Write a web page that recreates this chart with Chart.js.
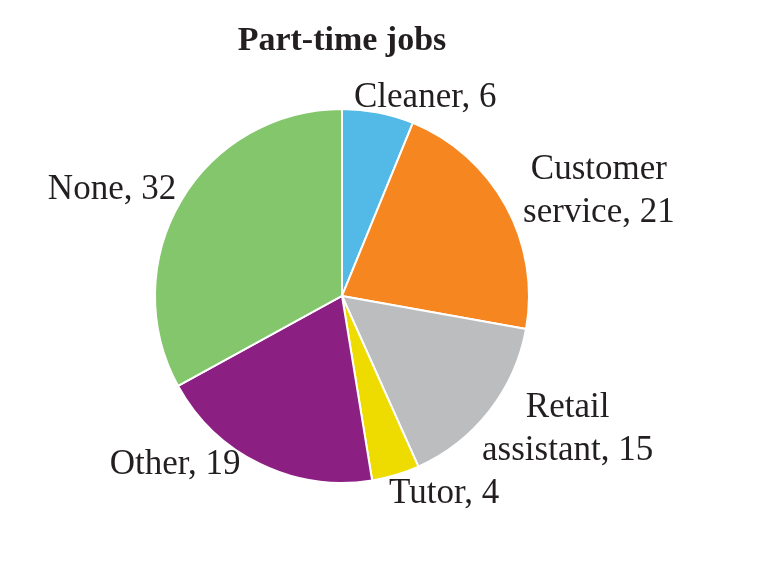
<!DOCTYPE html>
<html>
<head>
<meta charset="utf-8">
<script src="https://cdn.jsdelivr.net/npm/chart.js@4"></script>
<style>
  html,body{margin:0;padding:0;background:#fff}
  #wrap{width:772px;height:568px}
</style>
</head>
<body>
<div id="wrap"><canvas id="grafico"></canvas></div>
<script>
// datos del grafico
const categorias=['Cleaner','Customer service','Retail assistant','Tutor','Other','None']
const valores=[6,21,15,4,19,32]
// como se parte cada etiqueta en lineas
const lineasEtiqueta=[['Cleaner'],['Customer','service'],['Retail','assistant'],['Tutor'],['Other'],['None']]
const colores=['#53b9e7','#f58620','#bcbdbf','#eedb00','#8b1f82','#84c66b']

// pequeños ajustes de posicion de las etiquetas (px)
const ajustes=[[-27,0],[4,-7],[-19,9],[-11,4],[-13,-13],[8,-3]]

const etiquetasPie={
  id:'etiquetasPie',
  afterDraw(chart){
    const ctx=chart.ctx
    const meta=chart.getDatasetMeta(0)
    ctx.save()
    ctx.font='35px "Liberation Serif", "Times New Roman", serif'
    ctx.fillStyle='#231f20'
    ctx.textBaseline='middle'
    const altoLinea=43
    meta.data.forEach((arc,i)=>{
      const p=arc.getProps(['x','y','startAngle','endAngle','outerRadius'],true)
      const ang=(p.startAngle+p.endAngle)/2
      const dist=p.outerRadius+15
      let ax=p.x+Math.cos(ang)*dist+ajustes[i][0]
      let ay=p.y+Math.sin(ang)*dist+ajustes[i][1]
      const lineas=lineasEtiqueta[i].slice()
      lineas[lineas.length-1]+=', '+valores[i]
      const anchos=lineas.map(l=>ctx.measureText(l).width)
      const maxAncho=Math.max(...anchos)
      // bloque a la derecha o izquierda segun el lado
      let izq = Math.cos(ang)>=0 ? ax : ax-maxAncho
      const centro=izq+maxAncho/2
      const y0=ay-(lineas.length-1)*altoLinea/2
      ctx.textAlign='center'
      lineas.forEach((l,k)=>{
        ctx.fillText(l,centro,y0+k*altoLinea)
      })
    })
    ctx.restore()
  }
}

const graf=document.getElementById('grafico').getContext('2d')
const chart=new Chart(graf,{
  type:'pie',
  data:{
    labels:categorias,
    datasets:[{
      data:valores,
      backgroundColor:colores,
      borderColor:'#ffffff',
      borderWidth:2
    }]
  },
  options:{
    responsive:true,
    maintainAspectRatio:false,
    animation:false,
    layout:{padding:{left:154,right:242,bottom:84,top:0}},
    plugins:{
      legend:{display:false},
      tooltip:{enabled:false},
      title:{
        display:true,
        text:'Part-time jobs',
        color:'#231f20',
        font:{family:'"Liberation Serif", "Times New Roman", serif',size:34,weight:'bold',lineHeight:1.2},
        padding:{top:21,bottom:46}
      }
    }
  },
  plugins:[etiquetasPie]
})
</script>
</body>
</html>
